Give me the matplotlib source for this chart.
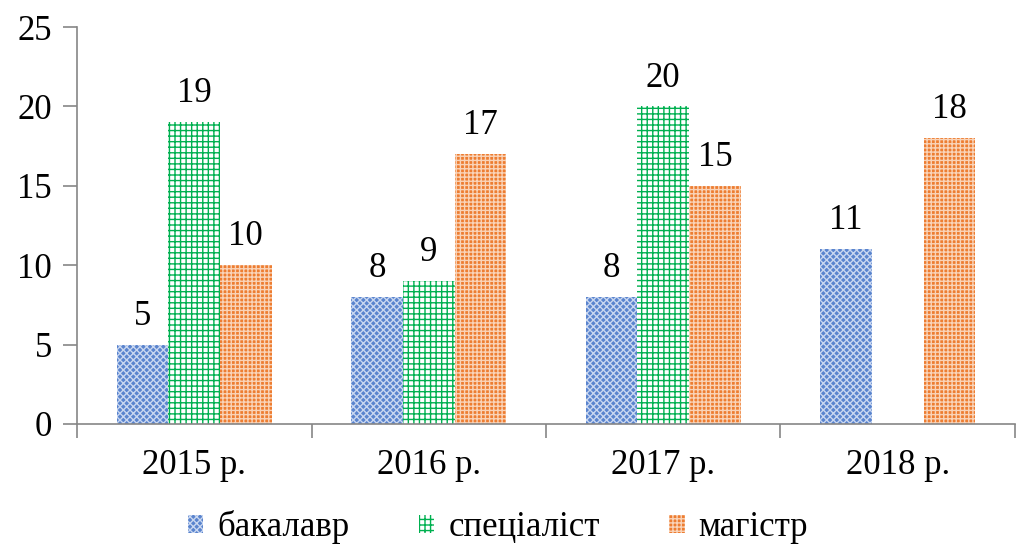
import matplotlib.pyplot as plt
import numpy as np

# дані
years = ['2015 р.', '2016 р.', '2017 р.', '2018 р.']
bakalavr = [5, 8, 8, 11]
specialist = [19, 9, 20, 0]
magistr = [10, 17, 15, 18]
names = ['бакалавр', 'спеціаліст', 'магістр']

plt.rcParams['font.family'] = ['Liberation Serif', 'DejaVu Serif']
plt.rcParams['hatch.linewidth'] = 1.0

fig = plt.figure(figsize=(10.16, 5.47), dpi=100)
ax = fig.add_axes([0.0758, 0.2249, 0.9232, 0.7257])

x = np.arange(len(years))
w = 0.22
styles = [
    dict(facecolor='#5A84CE', edgecolor='#C9D7F0', hatch='xxxxx'),
    dict(facecolor='white', edgecolor='#00B050', hatch='+++'),
    dict(facecolor='#ED7D31', edgecolor='#F9D3B8', hatch='++++'),
]
series = [bakalavr, specialist, magistr]
for i, (vals, st, name) in enumerate(zip(series, styles, names)):
    pos = x + (i - 1) * w
    bars = ax.bar(pos, vals, w, linewidth=0, label=name, **st)
    for p, v in zip(pos, vals):
        if v > 0:
            ax.text(p, v + 0.75, str(v), ha='center', va='bottom', fontsize=25)

ax.set_xlim(-0.5, 3.5)
ax.set_ylim(0, 25)
ax.set_yticks(range(0, 26, 5))
ax.set_xticks(x)
ax.set_xticklabels(years)
ax.set_xticks(np.arange(-0.5, 4.0, 1), minor=True)
ax.tick_params(axis='x', which='major', length=0, pad=18, labelsize=25)
ax.tick_params(axis='x', which='minor', length=10, color='#868686', width=1.2)
ax.tick_params(axis='y', length=10, color='#868686', width=1.2, labelsize=25, pad=8)
for s in ['top', 'right']:
    ax.spines[s].set_visible(False)
for s in ['left', 'bottom']:
    ax.spines[s].set_color('#868686')
    ax.spines[s].set_linewidth(1.2)

fig.legend(loc='center', bbox_to_anchor=(0.49, 0.036), ncol=3, frameon=False,
           fontsize=25, handlelength=0.45, handleheight=0.45, columnspacing=2.0,
           handletextpad=0.4)

fig.savefig('out.png', dpi=100)
